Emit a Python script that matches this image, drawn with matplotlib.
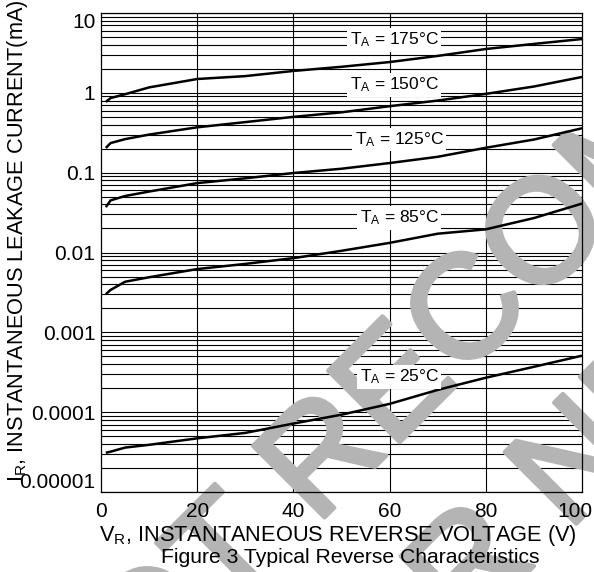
import matplotlib
matplotlib.use("Agg")
import matplotlib.pyplot as plt
import matplotlib.transforms as mtransforms
import matplotlib.patheffects as pe
import numpy as np

plt.rcParams['font.family'] = ['Liberation Sans', 'DejaVu Sans']
plt.rcParams['mathtext.fontset'] = 'custom'
plt.rcParams['mathtext.rm'] = 'Liberation Sans'
plt.rcParams['mathtext.it'] = 'Liberation Sans:italic'

# ---- data ----
voltage = [1, 2, 5, 10, 20, 30, 40, 50, 60, 70, 80, 90, 100]
i_175 = [0.77, 0.86, 0.96, 1.17, 1.49, 1.62, 1.88, 2.12, 2.43, 2.9, 3.54, 4.1, 4.72]
i_150 = [0.204, 0.235, 0.263, 0.30, 0.37, 0.43, 0.50, 0.57, 0.68, 0.80, 0.97, 1.20, 1.58]
i_125 = [0.037, 0.045, 0.051, 0.058, 0.074, 0.085, 0.099, 0.112, 0.132, 0.158, 0.205, 0.26, 0.36]
i_85 = [0.0030, 0.0034, 0.0043, 0.0049, 0.0062, 0.0072, 0.0085, 0.0105, 0.0132, 0.0172, 0.0195, 0.027, 0.041]
i_25 = [3.1e-5, 3.2e-5, 3.6e-5, 3.9e-5, 4.7e-5, 5.5e-5, 7.2e-5, 9.3e-5, 1.27e-4, 1.9e-4, 2.7e-4, 3.7e-4, 5.1e-4]
series = [i_175, i_150, i_125, i_85, i_25]
curve_labels = ["T$_\\mathregular{A}$ = 175°C", "T$_\\mathregular{A}$ = 150°C",
                "T$_\\mathregular{A}$ = 125°C", "T$_\\mathregular{A}$ = 85°C",
                "T$_\\mathregular{A}$ = 25°C"]
label_x = [61, 61, 62, 62, 62]
label_y = [4.6, 1.25, 0.26, 0.027, 2.75e-4]
x_ticks = [0, 20, 40, 60, 80, 100]
y_ticks = [1e-5, 1e-4, 1e-3, 1e-2, 1e-1, 1, 10]
y_ticklabels = ["0.00001", "0.0001", "0.001", "0.01", "0.1", "1", "10"]
watermark_lines = ["NOT RECOMMENDED", "FOR NEW DESIGN"]

W, H = 594, 572
fig = plt.figure(figsize=(W/100, H/100), dpi=100)
ax = fig.add_axes([101/W, 1-492/H, 481/W, 479/H])
ax.set_yscale('log')
ax.set_xlim(0, 100)
ax.set_ylim(1e-5, 10)

# grid lines (drawn manually so the watermark can sit above them)
for xv in x_ticks[1:-1]:
    ax.axvline(xv, color='black', lw=0.8, zorder=0.6)
for dec in range(-5, 1):
    for m in range(1, 10):
        ax.axhline(m * 10.0**dec, color='black', lw=0.8, zorder=0.6)
ax.axhline(10, color='black', lw=0.8, zorder=0.6)

# watermark
wm_gray = '#b4b4b4'
wm_anchor = [(612, 230), (779, 321)]
for txt, (px, py) in zip(watermark_lines, wm_anchor):
    ax.text(px/W, 1-py/H, txt, transform=fig.transFigure,
            fontsize=106, color=wm_gray, rotation=45, rotation_mode='anchor',
            ha='center', va='baseline', zorder=0.8, clip_on=False,
            path_effects=[pe.withStroke(linewidth=3, foreground=wm_gray)])

for vals in series:
    ax.plot(voltage, vals, color='black', lw=1.8, zorder=2, solid_capstyle='butt')

for lab, lx, ly in zip(curve_labels, label_x, label_y):
    ax.text(lx, ly, lab, fontsize=12.5, ha='center', va='center', zorder=3,
            bbox=dict(boxstyle='square,pad=0.15', fc='white', ec='none'))

ax.set_xticks(x_ticks)
ax.set_xticklabels([str(v) for v in x_ticks])
ax.set_yticks(y_ticks)
ax.set_yticklabels(y_ticklabels)
ax.yaxis.set_minor_locator(matplotlib.ticker.NullLocator())
ax.tick_params(axis='both', length=0, labelsize=15)
ax.tick_params(axis='y', pad=4)
ax.tick_params(axis='x', pad=7)
ylabs = ax.get_yticklabels()
ylabs[0].set_va('bottom')
ylabs[-1].set_va('top')
xlabs = ax.get_xticklabels()
xlabs[-1].set_transform(xlabs[-1].get_transform() +
                        mtransforms.ScaledTranslation(-7/100, 0, fig.dpi_scale_trans))

for sp in ax.spines.values():
    sp.set_linewidth(0.9)
    sp.set_zorder(2.5)

ax.set_xlabel("V$_\\mathregular{R}$, INSTANTANEOUS REVERSE VOLTAGE (V)", fontsize=15.7)
ax.xaxis.set_label_coords((338-101)/481, -0.064)
ax.set_ylabel("I$_\\mathregular{R}$, INSTANTANEOUS LEAKAGE CURRENT(mA)", fontsize=15.7)
ax.yaxis.set_label_coords(-0.148, 0.525)

fig.text(350/W, 1-563/H, "Figure 3 Typical Reverse Characteristics", fontsize=15.2,
         ha='center', va='baseline')

fig.savefig("out.png", dpi=100)
